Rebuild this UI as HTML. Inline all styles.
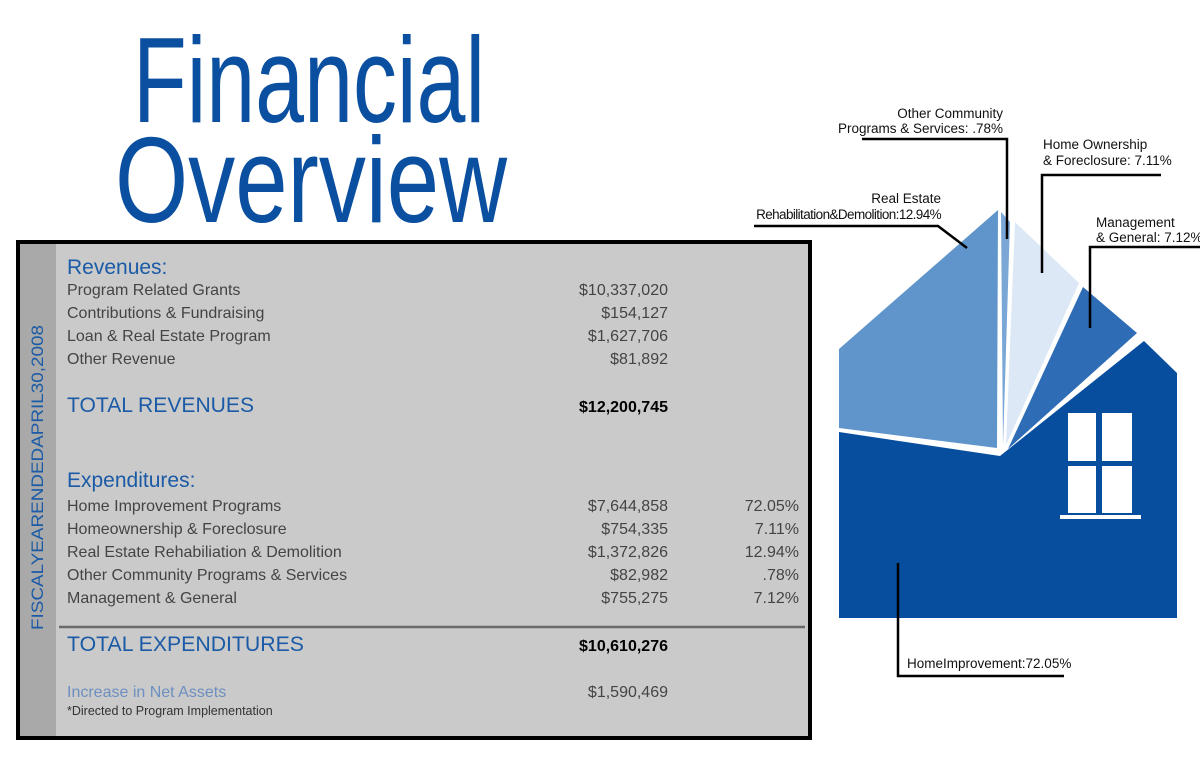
<!DOCTYPE html>
<html><head><meta charset="utf-8"><style>
html,body{margin:0;padding:0;background:#fff;width:1200px;height:757px;overflow:hidden}
svg{display:block}
</style></head><body>
<svg width="1200" height="757" viewBox="0 0 1200 757" xmlns="http://www.w3.org/2000/svg" font-family="Liberation Sans, sans-serif">
<rect width="1200" height="757" fill="#fff"/>
<text x="133" y="122" font-size="122" fill="#0a4fa0" textLength="352" lengthAdjust="spacingAndGlyphs">Financial</text>
<text x="115" y="222" font-size="122" fill="#0a4fa0" textLength="392" lengthAdjust="spacingAndGlyphs">Overview</text>

<rect x="18" y="242" width="792" height="496" fill="#cacaca" stroke="#000" stroke-width="4"/>
<rect x="20" y="244" width="36" height="492" fill="#a9a9a9"/>
<text transform="translate(43,630) rotate(-90)" font-size="17" fill="#1a5aa6" textLength="305" lengthAdjust="spacingAndGlyphs">FISCALYEARENDEDAPRIL30,2008</text>

<g fill="#1a5aa6">
<text x="67" y="274" font-size="21">Revenues:</text>
<text x="67" y="412" font-size="21" textLength="187" lengthAdjust="spacingAndGlyphs">TOTAL REVENUES</text>
<text x="67" y="487" font-size="21">Expenditures:</text>
<text x="67" y="651" font-size="21" textLength="237" lengthAdjust="spacingAndGlyphs">TOTAL EXPENDITURES</text>
</g>
<text x="67" y="697" font-size="16" fill="#6d8fc0">Increase in Net Assets</text>
<text x="67" y="715" font-size="12.5" fill="#333">*Directed to Program Implementation</text>

<g font-size="16" fill="#444">
<text x="67" y="295">Program Related Grants</text>
<text x="67" y="318">Contributions &amp; Fundraising</text>
<text x="67" y="341">Loan &amp; Real Estate Program</text>
<text x="67" y="364">Other Revenue</text>
<text x="67" y="511">Home Improvement Programs</text>
<text x="67" y="534">Homeownership &amp; Foreclosure</text>
<text x="67" y="557">Real Estate Rehabiliation &amp; Demolition</text>
<text x="67" y="580">Other Community Programs &amp; Services</text>
<text x="67" y="603">Management &amp; General</text>
</g>
<g font-size="16" fill="#444" text-anchor="end">
<text x="668" y="295">$10,337,020</text>
<text x="668" y="318">$154,127</text>
<text x="668" y="341">$1,627,706</text>
<text x="668" y="364">$81,892</text>
<text x="668" y="511">$7,644,858</text>
<text x="668" y="534">$754,335</text>
<text x="668" y="557">$1,372,826</text>
<text x="668" y="580">$82,982</text>
<text x="668" y="603">$755,275</text>
<text x="668" y="697">$1,590,469</text>
<text x="799" y="511">72.05%</text>
<text x="799" y="534">7.11%</text>
<text x="799" y="557">12.94%</text>
<text x="799" y="580">.78%</text>
<text x="799" y="603">7.12%</text>
</g>
<g font-size="16" font-weight="bold" fill="#000" text-anchor="end">
<text x="668" y="412">$12,200,745</text>
<text x="668" y="651">$10,610,276</text>
</g>
<line x1="59" y1="627" x2="805" y2="627" stroke="#6a6a6a" stroke-width="2.5"/>

<!-- house -->
<polygon points="839,349 998,210 997,448 839,428" fill="#5f95cb"/>
<polygon points="1001,212 1010,222 1003,446" fill="#7aa7d6"/>
<polygon points="1015,222 1079,283 1006,445" fill="#dce8f5"/>
<polygon points="1083,287 1137,333 1008,449" fill="#2e6cb5"/>
<polygon points="839,432 1000,456 1144,341 1177,373 1177,618 839,618" fill="#074f9e"/>
<rect x="1068" y="413" width="64" height="100" fill="#fff"/>
<rect x="1096" y="413" width="6" height="100" fill="#074f9e"/>
<rect x="1068" y="461" width="64" height="5" fill="#074f9e"/>
<rect x="1060" y="515" width="81" height="4" fill="#fff"/>

<g stroke="#000" stroke-width="2.5" fill="none">
<polyline points="862,139 1007,139 1007,239"/>
<polyline points="1161,175 1042,175 1042,273"/>
<polyline points="754,226 938,226 967,248"/>
<polyline points="1200,247 1090,247 1090,328"/>
<polyline points="898,563 898,676 1064,676"/>
</g>
<g font-size="13.5" fill="#111">
<text x="1003" y="118" text-anchor="end">Other Community</text>
<text x="1003" y="133" text-anchor="end">Programs &amp; Services: .78%</text>
<text x="1043" y="149">Home Ownership</text>
<text x="1043" y="165">&amp; Foreclosure: 7.11%</text>
<text x="941" y="203" text-anchor="end">Real Estate</text>
<text x="941" y="219" text-anchor="end" letter-spacing="-0.6">Rehabilitation&amp;Demolition:12.94%</text>
<text x="1096" y="227">Management</text>
<text x="1096" y="242">&amp; General: 7.12%</text>
<text x="907" y="668">HomeImprovement:72.05%</text>
</g>
</svg>
</body></html>
